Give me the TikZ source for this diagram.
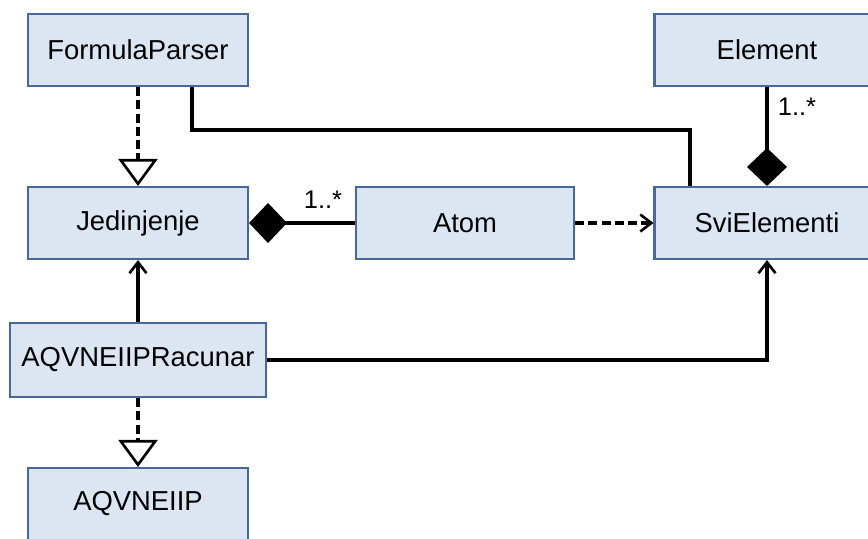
\documentclass[tikz,border=0pt]{standalone}
\usepackage{fontspec}
\setmainfont{Liberation Sans}
\usetikzlibrary{arrows.meta}

\definecolor{boxfill}{HTML}{DCE6F2}
\definecolor{boxline}{HTML}{46699A}

\begin{document}
\begin{tikzpicture}[x=0.02cm,y=-0.02cm,
    klasa/.style={draw=boxline,fill=boxfill,line width=1.2pt,minimum width=4.4cm,
      minimum height=1.44cm,inner sep=0pt,font=\fontsize{15.6}{18}\selectfont},
    veza/.style={line width=1.9pt},
    isprek/.style={veza,dash pattern=on 0.18cm off 0.085cm},
    nasl/.style={-{Triangle[open,length=0.54cm,width=0.78cm,line width=1.5pt]}},
    komp/.style={-{Diamond[length=0.76cm,width=0.8cm]}},
    strel/.style={-{Straight Barb[length=0.22cm,width=0.34cm,line width=1.5pt]}},
    oznaka/.style={font=\fontsize{14.5}{17}\selectfont}]
  \useasboundingbox (0,0) rectangle (868,538);
  \clip (0,0) rectangle (868,538);
  % klase
  \node[klasa] (fp) at (138,50) {FormulaParser};
  \node[klasa,minimum width=4.5cm] (el) at (767,50) {Element};
  \node[klasa] (jed) at (138,223) {Jedinjenje};
  \node[klasa,minimum width=4.36cm] (atom) at (465,223) {Atom};
  \node[klasa,minimum width=4.5cm] (svi) at (767,223) {SviElementi};
  \node[klasa,minimum width=5.12cm,minimum height=1.48cm] (rac) at (138,360) {AQVNEIIPRacunar};
  \node[klasa] (aqv) at (138,504) {AQVNEIIP};
  % nasledjivanje (isprekidano)
  \draw[isprek,nasl] (fp) -- (jed);
  \draw[isprek,nasl] (rac) -- (aqv);
  % FormulaParser -- SviElementi
  \coordinate (k1) at (192,130);
  \coordinate (k2) at (690,130);
  \draw[veza] (k1 |- fp.south) -- (k1) -- (k2) -- (k2 |- svi.north);
  % kompozicije
  \draw[veza,komp] (el) -- (svi);
  \node[oznaka] (m1) at (797,107) {1..*};
  \draw[veza,komp] (atom) -- (jed);
  \node[oznaka] (m2) at (323,200) {1..*};
  % zavisnosti
  \draw[isprek,strel] (atom) -- (svi);
  \draw[veza,strel] (rac) -- (jed);
  \draw[veza,strel] (rac.east) -| (svi.south);
\end{tikzpicture}
\end{document}
